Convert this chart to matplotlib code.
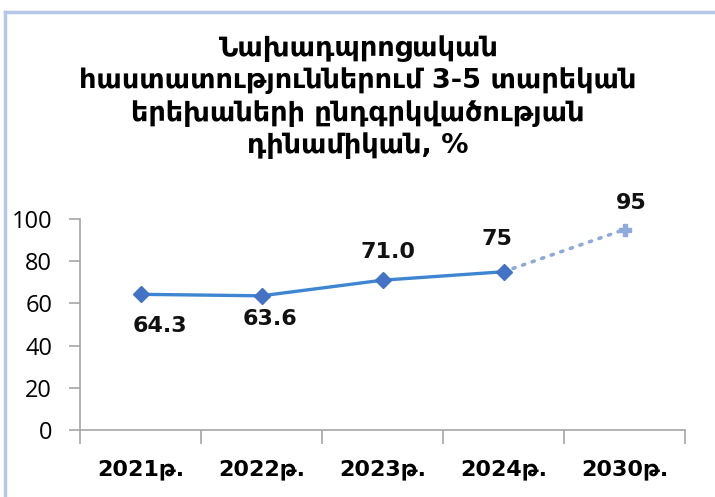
import matplotlib
matplotlib.use("Agg")
import matplotlib.pyplot as plt
from matplotlib.lines import Line2D

# data
years = ["2021թ.", "2022թ.", "2023թ.", "2024թ.", "2030թ."]
actual = [64.3, 63.6, 71.0, 75]
target = 95
labels = ["64.3", "63.6", "71.0", "75", "95"]
title = ("Նախադպրոցական\nհաստատություններում 3-5 տարեկան\n"
         "երեխաների ընդգրկվածության\nդինամիկան, %")

plt.rcParams['font.family'] = ['DejaVu Sans']

fig = plt.figure(figsize=(7.15, 4.97), dpi=100)
ax = fig.add_axes([80 / 715, 67 / 497, 605 / 715, 211 / 497])

x = list(range(len(years)))
# dotted forecast segment
ax.plot([x[3], x[4]], [actual[-1], target], color="#8eaadb", lw=2.6,
        linestyle=(0, (0.6, 2.2)), dash_capstyle="round", zorder=2)
ax.plot(x[4], target, marker="P", ms=9, color="#8eaadb", mec="#8eaadb", zorder=3)
ax.plot(x[:4], actual, color="#3f86d2", lw=2.4, marker="D", ms=8,
        mfc="#4472c4", mec="#4472c4", zorder=3)

# label offsets in pixels (dx, dy)
offsets = [(19, -32), (8, -23), (6, 28), (-7, 33), (7, 27)]
yvals = actual + [target]
for i, (lab, off) in enumerate(zip(labels, offsets)):
    ax.annotate(lab, (x[i], yvals[i]), xytext=off, textcoords="offset pixels",
                ha="center", va="center", fontsize=16, fontweight="bold",
                color="#111111")

ax.set_xlim(-0.5, 4.5)
ax.set_ylim(0, 100)
ax.set_yticks([0, 20, 40, 60, 80, 100])
ax.set_xticks(x)
ax.set_xticklabels(years, fontsize=16, fontweight="bold")
ax.set_xticks([i - 0.5 for i in range(6)], minor=True)
ax.tick_params(axis="x", which="major", length=0, pad=21)
ax.tick_params(axis="x", which="minor", length=10, color="#a6a6a6", width=1.2)
ax.tick_params(axis="y", length=8, color="#a6a6a6", width=1.2, labelsize=17, pad=12)
for t in ax.get_yticklabels():
    t.set_family(["Open Sans", "DejaVu Sans"])

for s in ["top", "right"]:
    ax.spines[s].set_visible(False)
for s in ["left", "bottom"]:
    ax.spines[s].set_color("#a6a6a6")
    ax.spines[s].set_linewidth(1.2)

fig.text(0.5, 1 - 97 / 497, title, ha="center", va="center", fontsize=19.5,
         fontweight="bold", linespacing=1.28)

# light blue frame on left and top
fig.add_artist(Line2D([5 / 715, 5 / 715], [0, 1 - 12 / 497], color="#b4c7e7",
                      lw=2.5, transform=fig.transFigure))
fig.add_artist(Line2D([5 / 715, 1], [1 - 12 / 497, 1 - 12 / 497], color="#b4c7e7",
                      lw=2.5, transform=fig.transFigure))

fig.savefig("out.png", dpi=100)
